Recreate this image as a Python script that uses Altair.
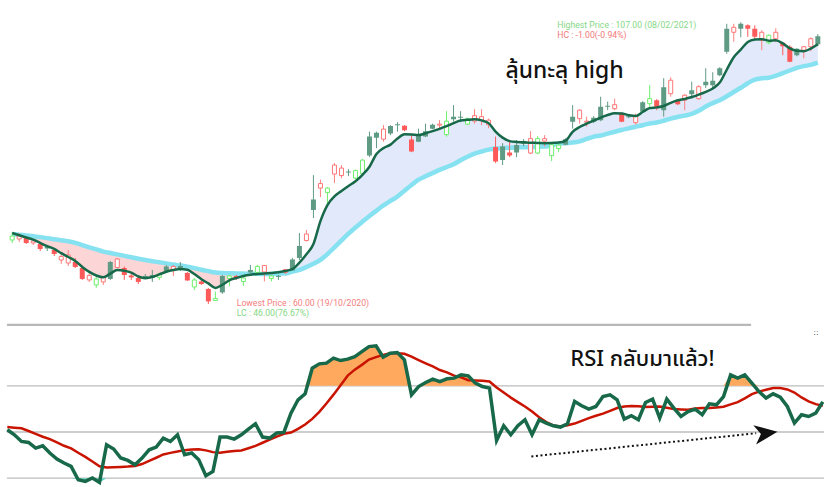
import altair as alt
import pandas as pd
import numpy as np

# ---------------- price candles ----------------
opens = [70.67, 70.83, 71.0, 70.17, 70.0, 69.58, 69.0, 67.33, 66.83, 67.0,
         66.0, 64.0, 63.17, 63.67, 67.0, 66.08, 66.0, 64.75, 64.33, 64.67,
         64.83, 64.42, 66.25, 65.58, 66.33, 65.17, 62.83, 63.75, 62.5, 60.58,
         64.67, 64.25, 64.67, 63.75, 65.67, 65.25, 65.33, 64.25, 64.67, 65.25,
         67.42, 69.67, 70.58, 77.42, 79.33, 78.58, 81.67, 81.42, 82.08, 81.0,
         81.75, 87.92, 88.58, 87.5, 89.67, 90.0, 89.75, 87.42, 88.08, 88.83,
         89.92, 89.83, 88.25, 91.25, 91.25, 90.0, 90.5, 90.67, 89.92, 86.17,
         86.25, 85.25, 86.5, 87.17, 85.17, 85.17, 87.17, 84.75, 85.92, 87.5,
         91.25, 90.92, 90.33, 91.08, 92.92, 93.08, 92.58, 91.75, 91.33, 90.25,
         93.67, 93.42, 94.0, 96.17, 95.08, 94.0, 94.0, 95.67, 94.25, 97.08,
         97.25, 99.33, 105.92, 105.33, 106.75, 106.5, 105.92, 104.0, 103.58, 104.25,
         103.58, 102.92, 102.58, 102.33, 102.92, 104.67]
highs = [72.0, 71.83, 71.17, 70.67, 70.17, 69.83, 69.17, 68.33, 69.0, 67.67,
         66.33, 65.17, 64.5, 64.67, 67.17, 67.67, 66.25, 65.17, 64.5, 65.0,
         65.67, 65.17, 66.5, 66.5, 67.0, 65.33, 64.33, 64.0, 62.67, 62.08,
         64.83, 64.83, 64.83, 64.5, 66.5, 66.5, 66.5, 64.83, 64.83, 65.83,
         67.67, 71.83, 72.33, 81.5, 80.75, 79.5, 83.5, 83.17, 82.5, 82.42,
         84.17, 88.75, 88.75, 89.83, 89.83, 90.33, 89.83, 88.17, 89.25, 90.08,
         90.08, 90.67, 92.17, 93.17, 92.17, 91.08, 92.5, 92.5, 90.92, 87.92,
         86.83, 87.33, 87.33, 87.5, 88.83, 88.0, 88.17, 86.83, 86.67, 87.67,
         93.17, 92.5, 91.25, 91.33, 94.58, 93.75, 94.25, 92.0, 91.5, 91.75,
         93.83, 96.5, 94.17, 97.67, 97.83, 94.17, 95.0, 97.08, 96.5, 99.33,
         98.67, 99.5, 106.75, 106.75, 107.0, 106.67, 106.5, 105.67, 105.0, 106.0,
         103.67, 103.17, 102.67, 103.0, 104.5, 105.0]
lows = [70.17, 70.33, 70.0, 69.83, 68.83, 68.83, 68.0, 66.67, 66.33, 66.0,
        64.0, 63.67, 62.67, 63.17, 64.0, 66.0, 64.0, 64.0, 63.33, 64.17,
        63.67, 64.0, 65.33, 64.67, 65.5, 63.83, 62.33, 63.17, 60.0, 60.5,
        61.67, 62.92, 64.0, 63.0, 65.17, 64.83, 63.75, 63.75, 64.0, 65.0,
        65.5, 67.33, 70.42, 74.33, 77.83, 76.5, 80.17, 81.0, 81.33, 80.83,
        81.5, 84.5, 86.0, 87.08, 88.17, 88.75, 88.83, 85.33, 87.0, 87.83,
        89.17, 89.17, 87.92, 90.42, 90.33, 89.83, 90.08, 89.83, 89.33, 83.5,
        83.17, 84.5, 84.5, 86.33, 85.0, 85.0, 86.25, 83.83, 85.33, 86.5,
        89.25, 90.08, 89.58, 90.17, 90.5, 92.33, 92.33, 90.33, 91.0, 89.92,
        91.92, 92.83, 92.33, 91.25, 94.58, 93.17, 92.33, 94.25, 94.08, 96.0,
        96.0, 98.0, 101.75, 103.75, 104.5, 104.58, 104.0, 102.33, 103.33, 103.67,
        101.5, 100.33, 101.33, 101.0, 102.17, 103.0]
closes = [71.33, 71.33, 70.17, 70.5, 69.17, 69.25, 68.33, 67.92, 68.17, 66.17,
          64.17, 64.75, 64.17, 64.5, 64.17, 67.5, 64.83, 64.42, 63.67, 64.42,
          64.33, 65.0, 65.42, 66.25, 65.83, 63.92, 64.0, 63.33, 60.42, 60.92,
          61.92, 64.67, 64.25, 64.33, 65.25, 66.25, 66.42, 64.67, 64.5, 65.75,
          65.58, 67.67, 71.67, 75.67, 80.08, 79.33, 83.17, 82.67, 81.92, 82.25,
          84.0, 84.75, 87.75, 89.17, 88.42, 89.83, 89.0, 85.42, 87.08, 87.92,
          89.25, 90.0, 90.5, 90.83, 91.08, 90.92, 91.42, 91.25, 90.67, 83.75,
          84.0, 84.75, 85.25, 86.67, 87.58, 87.58, 87.58, 86.58, 86.5, 86.58,
          90.42, 92.33, 90.5, 90.42, 90.67, 92.92, 93.25, 90.42, 91.17, 91.25,
          92.08, 94.25, 92.67, 92.33, 97.33, 93.33, 94.83, 95.0, 96.25, 96.5,
          96.5, 98.17, 102.08, 106.17, 105.92, 105.92, 104.58, 105.33, 104.83, 105.33,
          103.0, 100.42, 101.5, 102.92, 104.25, 103.33]
# gf = dark green filled, rf = red filled, hg = green hollow, hr = red hollow
kinds = ["hg", "hr", "rf", "hr", "rf", "gf", "rf", "hr", "hr", "rf",
         "rf", "hr", "hg", "hr", "gf", "hr", "rf", "rf", "rf", "gf",
         "gf", "hg", "gf", "hr", "gf", "rf", "hg", "rf", "rf", "hg",
         "gf", "hg", "rf", "hg", "gf", "hg", "hr", "hg", "gf", "hr",
         "gf", "gf", "hr", "gf", "hr", "hg", "hr", "hr", "gf", "hg",
         "hg", "gf", "gf", "hr", "gf", "gf", "rf", "rf", "gf", "gf",
         "gf", "hr", "hg", "gf", "gf", "hg", "hr", "hr", "hr", "rf",
         "gf", "rf", "gf", "gf", "hr", "hg", "hr", "hg", "hg", "gf",
         "gf", "hr", "hr", "gf", "gf", "gf", "hr", "rf", "gf", "hr",
         "gf", "hg", "rf", "gf", "hr", "rf", "hr", "gf", "hr", "gf",
         "gf", "gf", "gf", "hr", "gf", "rf", "rf", "hr", "hg", "hr",
         "rf", "rf", "gf", "hr", "hr", "gf"]

# ---------------- moving averages ----------------
ma_fast = [71.83, 71.45, 71.08, 70.73, 70.18, 69.65, 69.17, 68.47, 67.83, 67.18,
           66.17, 65.35, 64.75, 64.45, 65.05, 65.67, 65.55, 65.23, 64.58, 64.30,
           64.48, 64.93, 65.37, 65.65, 65.82, 65.70, 64.98, 64.12, 63.42, 62.67,
           63.20, 63.95, 64.33, 64.67, 64.88, 65.0, 65.07, 65.17, 65.30, 65.50,
           65.83, 66.90, 68.28, 70.0, 73.83, 76.5, 77.95, 78.83, 79.67, 80.47,
           81.55, 82.90, 85.02, 86.0, 86.58, 87.60, 88.30, 88.27, 88.17, 88.48,
           88.83, 89.20, 89.67, 90.17, 90.60, 90.72, 90.80, 90.63, 90.17, 88.75,
           87.75, 87.17, 87.03, 86.97, 86.90, 86.87, 86.83, 86.87, 86.92, 87.25,
           88.72, 89.53, 90.07, 90.58, 91.10, 91.52, 91.82, 91.78, 91.50, 91.35,
           92.03, 92.67, 92.80, 93.03, 93.55, 93.98, 94.20, 94.52, 94.93, 95.40,
           95.95, 96.93, 99.08, 101.17, 102.45, 103.70, 104.13, 104.18, 103.93, 104.0,
           103.47, 102.63, 102.23, 102.17, 102.62, 103.33]
ma_slow = [71.67, 71.55, 71.42, 71.30, 71.15, 70.98, 70.80, 70.63, 70.45, 70.18,
           69.82, 69.45, 69.10, 68.73, 68.50, 68.27, 68.02, 67.78, 67.55, 67.33,
           67.13, 66.95, 66.77, 66.57, 66.40, 66.22, 65.98, 65.70, 65.47, 65.23,
           65.15, 65.12, 65.08, 65.07, 65.03, 65.02, 65.0, 65.0, 65.05, 65.08,
           65.40, 65.68, 66.17, 66.72, 67.35, 68.32, 69.45, 70.60, 71.72, 72.75,
           73.73, 74.68, 75.57, 76.43, 77.18, 77.93, 78.90, 79.85, 80.73, 81.30,
           81.83, 82.37, 82.83, 83.30, 83.97, 84.57, 85.07, 85.43, 85.75, 85.93,
           86.0, 86.07, 86.12, 86.15, 86.18, 86.22, 86.25, 86.47, 86.73, 86.83,
           86.93, 87.13, 87.53, 87.90, 88.10, 88.42, 88.73, 89.03, 89.30, 89.57,
           89.82, 90.12, 90.28, 90.57, 90.92, 91.20, 91.42, 91.72, 92.23, 92.95,
           93.50, 94.0, 94.65, 95.37, 96.07, 96.83, 97.43, 97.65, 97.75, 98.08,
           98.50, 98.95, 99.38, 99.68, 99.88, 100.25]

# ---------------- RSI ----------------
rsi = [50.97, 48.81, 45.91, 45.48, 43.06, 44.05, 40.9, 38.3, 36.57, 35.1,
       29.35, 28.62, 30.09, 28.18, 44.49, 42.63, 38.74, 37.7, 35.84, 38.74,
       42.32, 43.49, 47.38, 45.91, 48.81, 40.16, 40.9, 38.0, 31.08, 32.94,
       47.82, 47.82, 46.95, 48.81, 51.28, 53.57, 47.82, 47.38, 49.55, 49.81,
       58.19, 63.95, 66.54, 77.65, 79.51, 79.82, 81.98, 80.94, 81.55, 82.67,
       84.83, 86.99, 87.3, 82.41, 84.14, 84.4, 81.24, 66.11, 69.7, 71.43,
       72.9, 71.86, 73.03, 73.33, 74.76, 74.32, 71.17, 69.7, 69.01, 46.35,
       52.7, 48.81, 52.7, 55.3, 48.81, 55.3, 53.87, 52.7, 52.14, 53.57,
       63.21, 61.35, 59.92, 61.05, 65.37, 66.11, 63.95, 55.6, 57.03, 55.3,
       62.78, 64.25, 56.03, 64.25, 60.36, 56.72, 58.89, 59.92, 57.46, 62.22,
       61.78, 65.37, 74.76, 73.33, 74.76, 71.17, 67.54, 64.68, 66.54, 65.11,
       61.05, 53.87, 57.46, 56.72, 58.19, 63.08]
rsi_signal = [52.14, 51.88, 51.62, 50.45, 49.2, 47.95, 46.95, 45.52, 44.05, 42.89,
              41.03, 39.25, 37.22, 35.19, 34.67, 34.76, 34.89, 35.02, 35.32, 36.14,
              37.48, 38.86, 40.29, 40.98, 41.55, 42.15, 42.41, 42.5, 42.06, 41.29,
              41.03, 41.46, 41.76, 41.98, 42.97, 44.01, 45.35, 46.74, 48.03, 49.24,
              49.76, 51.36, 53.26, 55.69, 58.76, 62.35, 66.19, 70.26, 74.41, 77.01,
              79.08, 81.37, 82.45, 83.41, 84.14, 84.14, 83.88, 82.63, 81.16, 79.77,
              78.39, 76.83, 75.84, 74.41, 73.68, 72.46, 72.29, 72.16, 71.86, 69.26,
              67.15, 64.9, 62.95, 61.05, 58.84, 56.38, 54.3, 52.88, 52.36, 52.92,
              53.65, 54.86, 56.03, 57.03, 57.98, 59.19, 60.4, 61.01, 61.31, 61.18,
              60.79, 60.92, 61.05, 60.49, 59.92, 59.79, 59.62, 60.14, 60.36, 60.36,
              60.66, 60.96, 61.96, 62.95, 64.55, 66.41, 67.49, 68.31, 69.01, 69.01,
              68.44, 67.1, 64.98, 63.25, 62.09, 61.39]
rsi_levels = [70, 50, 30]
rsi_overbought = 70
rsi_oversold = 30

# annotation arrow (index, RSI value)
arrow_i = [73.9, 105.6]
arrow_v = [39.43, 49.46]
arrow_head_i = [107.0]
arrow_head_v = [49.46]

n = len(opens)
idx = list(range(n))

candles = pd.DataFrame(dict(i=idx, open=opens, high=highs, low=lows,
                            close=closes, kind=kinds))
candles["top"] = candles[["open", "close"]].max(axis=1)
candles["bot"] = candles[["open", "close"]].min(axis=1)

ma = pd.DataFrame(dict(i=idx, fast=ma_fast, slow=ma_slow))
ma["pink_lo"] = np.minimum(ma["fast"], ma["slow"])
ma["blue_hi"] = np.maximum(ma["fast"], ma["slow"])

rs = pd.DataFrame(dict(i=idx, rsi=rsi, sig=rsi_signal))
rs["ob"] = np.maximum(rs["rsi"], rsi_overbought)
rs["obl"] = rsi_overbought
rs["os"] = np.minimum(rs["rsi"], rsi_oversold)
rs["osl"] = rsi_oversold

W = 825
H_TOP = 322
H_BOT = 165

x_scale = alt.Scale(domain=[-1.03, 115.17], nice=False, zero=False)
p_scale = alt.Scale(domain=[57.0, 110.667], nice=False, zero=False)
r_scale = alt.Scale(domain=[26.32, 97.68], nice=False, zero=False)

X = alt.X("i:Q", scale=x_scale, axis=None)

kind_dom = ["gf", "rf", "hg", "hr"]
body_cols = ["#16674a", "#ff1010", "#6cef6c", "#ff7575"]
wick_cols = ["#5f9b84", "#ff5a5a", "#6cef6c", "#ff8080"]

pink = alt.Chart(ma).mark_area(color="#fcd6d6", interpolate="monotone").encode(
    x=X, y=alt.Y("slow:Q", scale=p_scale, axis=None), y2="pink_lo:Q")
blue = alt.Chart(ma).mark_area(color="#e1e9fa", interpolate="monotone").encode(
    x=X, y=alt.Y("blue_hi:Q", scale=p_scale, axis=None), y2="slow:Q")
slow_line = alt.Chart(ma).mark_line(color="#86e2f1", strokeWidth=4.5,
                                    interpolate="monotone", clip=True).encode(
    x=X, y=alt.Y("slow:Q", scale=p_scale, axis=None))
fast_line = alt.Chart(ma).mark_line(color="#17694a", strokeWidth=2.5,
                                    interpolate="monotone", clip=True).encode(
    x=X, y=alt.Y("fast:Q", scale=p_scale, axis=None))

wicks = alt.Chart(candles).mark_rule(strokeWidth=1, clip=True).encode(
    x=X, y=alt.Y("low:Q", scale=p_scale, axis=None), y2="high:Q",
    color=alt.Color("kind:N", scale=alt.Scale(domain=kind_dom, range=wick_cols), legend=None))
bodies_f = alt.Chart(candles).transform_filter(
    "datum.kind == 'gf' || datum.kind == 'rf'").mark_bar(size=5, clip=True).encode(
    x=X, y=alt.Y("top:Q", scale=p_scale, axis=None), y2="bot:Q",
    color=alt.Color("kind:N", scale=alt.Scale(domain=kind_dom, range=body_cols), legend=None))
bodies_h = alt.Chart(candles).transform_filter(
    "datum.kind == 'hg' || datum.kind == 'hr'").mark_bar(
    size=4, fill="white", strokeWidth=1, clip=True).encode(
    x=X, y=alt.Y("top:Q", scale=p_scale, axis=None), y2="bot:Q",
    stroke=alt.Stroke("kind:N", scale=alt.Scale(domain=kind_dom, range=body_cols), legend=None))

def label(text, x, y, size, color, font="Roboto", weight="normal"):
    return alt.Chart(pd.DataFrame({"t": [text]})).mark_text(
        align="left", baseline="alphabetic", fontSize=size, color=color,
        font=font, fontWeight=weight).encode(
        text="t:N", x=alt.value(x), y=alt.value(y))

thai_font = "Noto Sans Thai, Noto Sans, Tahoma, sans-serif"

top = alt.layer(
    pink, blue, slow_line, wicks, bodies_f, bodies_h, fast_line,
    label("ลุ้นทะลุ high", 506, 78, 23, "#111111", thai_font, 500),
    label("Highest Price : 107.00 (08/02/2021)", 558, 28, 8.7, "#86d886"),
    label("HC : -1.00(-0.94%)", 558, 38, 8.7, "#f27878"),
    label("Lowest Price : 60.00 (19/10/2020)", 237, 306, 8.7, "#f47e7e"),
    label("LC : 46.00(76.67%)", 237, 316, 8.7, "#86d886"),
).properties(width=W, height=H_TOP)

RY = alt.Y("rsi:Q", scale=r_scale, axis=None)
levels = alt.Chart(pd.DataFrame({"lvl": rsi_levels})).mark_rule(
    color="#bdbdbd", strokeWidth=1.3).encode(
    y=alt.Y("lvl:Q", scale=r_scale, axis=None), x=alt.value(7), x2=alt.value(W))
sep = alt.Chart(pd.DataFrame({"a": [0]})).mark_rule(color="#b8b8b8", strokeWidth=2.2).encode(
    x=alt.value(7), x2=alt.value(752), y=alt.value(3))
ob_fill = alt.Chart(rs).mark_area(color="#ffa95e").encode(
    x=X, y=alt.Y("ob:Q", scale=r_scale, axis=None), y2="obl:Q")
os_fill = alt.Chart(rs).mark_area(color="#62d3c6").encode(
    x=X, y=alt.Y("os:Q", scale=r_scale, axis=None), y2="osl:Q")
sig_line = alt.Chart(rs).mark_line(color="#c81400", strokeWidth=2.5, clip=True).encode(
    x=X, y=alt.Y("sig:Q", scale=r_scale, axis=None))
rsi_line = alt.Chart(rs).mark_line(color="#17694a", strokeWidth=3.5, clip=True).encode(
    x=X, y=RY)
arrow = alt.Chart(pd.DataFrame({"i": arrow_i, "v": arrow_v})).mark_line(
    color="#111111", strokeWidth=2, strokeDash=[2, 2.6]).encode(
    x=X, y=alt.Y("v:Q", scale=r_scale, axis=None))
head = alt.Chart(pd.DataFrame({"i": arrow_head_i, "v": arrow_head_v})).mark_point(
    shape="M 1 0 L -1 -0.85 L -0.45 0 L -1 0.85 Z", size=530, filled=True,
    color="#111111", opacity=1, angle=352).encode(
    x=X, y=alt.Y("v:Q", scale=r_scale, axis=None))
icon = alt.Chart(pd.DataFrame({"t": ["::"]})).mark_text(
    align="center", baseline="middle", fontSize=8, color="#555555", font="DejaVu Sans").encode(
    text="t:N", x=alt.value(817), y=alt.value(11))

bottom = alt.layer(
    levels, sep, ob_fill, os_fill, sig_line, rsi_line, arrow, head, icon,
    label("RSI กลับมาแล้ว!", 571, 44, 22, "#111111", thai_font, 500),
).properties(width=W, height=H_BOT)

chart = alt.vconcat(top, bottom, spacing=0, bounds="flush").properties(
    padding=0, background="white"
).configure_view(stroke=None)

chart.save("out.html", embed_options={"renderer": "svg", "actions": False})
